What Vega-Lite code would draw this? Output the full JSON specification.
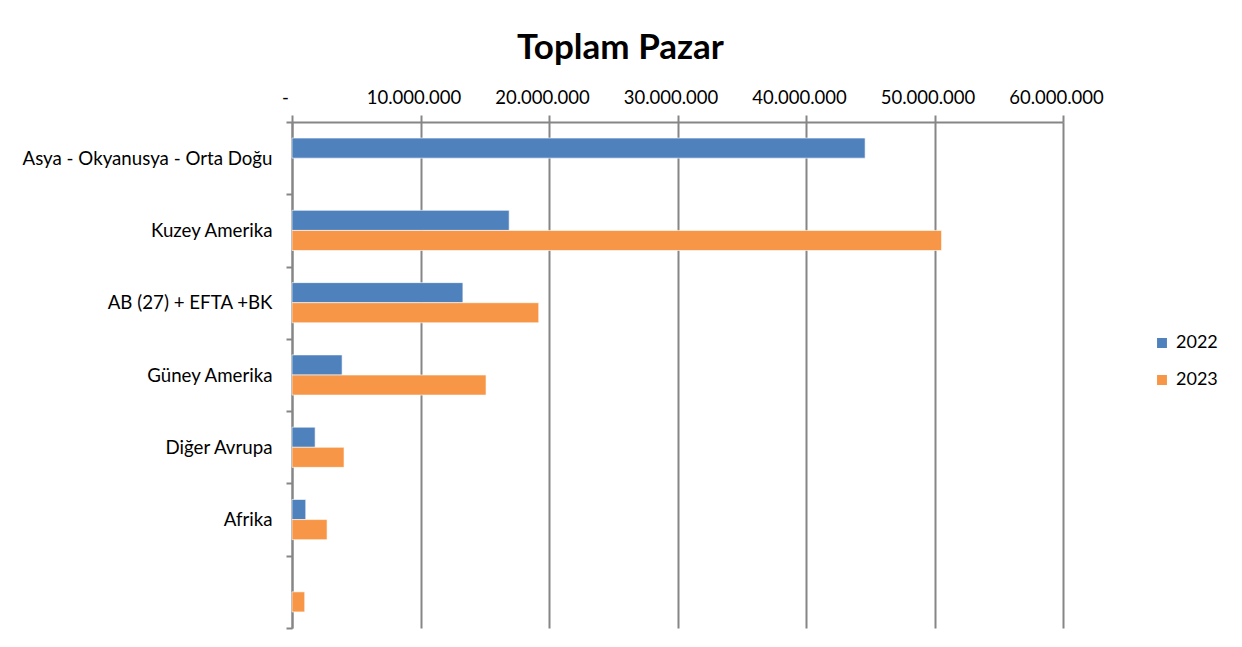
{
  "$schema": "https://vega.github.io/schema/vega-lite/v6.json",
  "width": 771,
  "height": 506,
  "autosize": {"type": "none"},
  "padding": {"left": 292, "top": 122, "right": 179, "bottom": 19},
  "background": "white",
  "title": {
    "text": "Toplam Pazar",
    "font": "Lato",
    "fontSize": 35,
    "fontWeight": "bold",
    "color": "#000000",
    "anchor": "middle",
    "dx": -57,
    "offset": 22
  },
  "data": {
    "values": [
      {"region": "Asya - Okyanusya - Orta Doğu", "year": "2022", "value": 44600000},
      {"region": "Kuzey Amerika", "year": "2022", "value": 16900000},
      {"region": "Kuzey Amerika", "year": "2023", "value": 50550000},
      {"region": "AB (27) + EFTA +BK", "year": "2022", "value": 13300000},
      {"region": "AB (27) + EFTA +BK", "year": "2023", "value": 19200000},
      {"region": "Güney Amerika", "year": "2022", "value": 3900000},
      {"region": "Güney Amerika", "year": "2023", "value": 15100000},
      {"region": "Diğer Avrupa", "year": "2022", "value": 1800000},
      {"region": "Diğer Avrupa", "year": "2023", "value": 4050000},
      {"region": "Afrika", "year": "2022", "value": 1070000},
      {"region": "Afrika", "year": "2023", "value": 2730000},
      {"region": " ", "year": "2023", "value": 990000}
    ]
  },
  "mark": {"type": "bar", "stroke": "white", "strokeOpacity": 0.6, "strokeWidth": 1},
  "encoding": {
    "y": {
      "field": "region",
      "type": "nominal",
      "sort": ["Asya - Okyanusya - Orta Doğu", "Kuzey Amerika", "AB (27) + EFTA +BK", "Güney Amerika", "Diğer Avrupa", "Afrika", " "],
      "scale": {"paddingInner": 0, "paddingOuter": 0},
      "axis": {
        "title": null,
        "tickBand": "extent",
        "domainColor": "#868686",
        "domainWidth": 2,
        "tickColor": "#868686",
        "tickWidth": 2,
        "tickSize": 6,
        "labelFont": "Lato",
        "labelFontSize": 18.7,
        "labelColor": "#000000",
        "labelPadding": 14,
        "labelLimit": 300,
        "grid": false
      }
    },
    "yOffset": {
      "field": "year",
      "type": "nominal",
      "scale": {"domain": ["2022", "2023"], "paddingInner": 0, "paddingOuter": 0.8}
    },
    "x": {
      "field": "value",
      "type": "quantitative",
      "scale": {"domain": [0, 60000000], "nice": false},
      "axis": {
        "orient": "top",
        "title": null,
        "values": [0, 10000000, 20000000, 30000000, 40000000, 50000000, 60000000],
        "labelExpr": "datum.value == 0 ? '-' : replace(format(datum.value, ',.0f'), /,/g, '.')",
        "labelOverlap": false,
        "labelFlush": false,
        "labelBound": false,
        "labelOffset": -7,
        "labelFont": "Lato",
        "labelFontSize": 18.5,
        "labelColor": "#000000",
        "labelPadding": 8,
        "domainColor": "#868686",
        "domainWidth": 2,
        "tickColor": "#868686",
        "tickWidth": 2,
        "tickSize": 7,
        "grid": true,
        "gridColor": "#868686",
        "gridWidth": 2
      }
    },
    "color": {
      "field": "year",
      "type": "nominal",
      "scale": {"domain": ["2022", "2023"], "range": ["#4F81BD", "#F79646"]},
      "legend": {
        "title": null,
        "orient": "none",
        "legendX": 861,
        "legendY": 212,
        "symbolType": "square",
        "symbolSize": 130,
        "labelFont": "Lato",
        "labelFontSize": 18,
        "labelColor": "#000000",
        "rowPadding": 19,
        "labelOffset": 5
      }
    }
  },
  "config": {
    "view": {"stroke": null}
  }
}
